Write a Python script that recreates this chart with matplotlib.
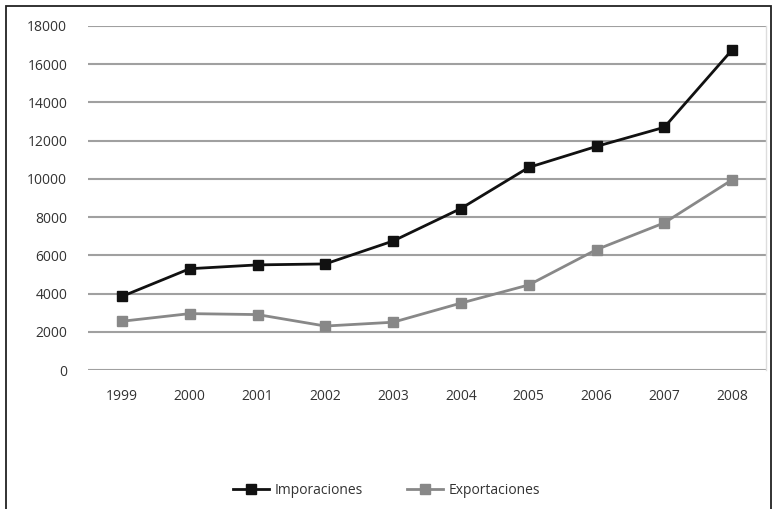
import matplotlib
matplotlib.use("Agg")
import matplotlib.pyplot as plt
from matplotlib.patches import Rectangle

years = ["1999", "2000", "2001", "2002", "2003", "2004", "2005", "2006", "2007", "2008"]
importaciones = [3850, 5300, 5500, 5550, 6750, 8450, 10600, 11700, 12700, 16750]
exportaciones = [2550, 2950, 2900, 2300, 2500, 3500, 4450, 6300, 7700, 9950]
yticks = [0, 2000, 4000, 6000, 8000, 10000, 12000, 14000, 16000, 18000]

plt.rcParams['font.family'] = ['Open Sans', 'DejaVu Sans']

W, H = 773, 509
fig = plt.figure(figsize=(W / 100, H / 100), dpi=100)
fig.patch.set_facecolor('white')

# outer border
fig.patches.append(Rectangle((6 / W, -0.01), (771 - 6) / W, 1 - 6 / H + 0.01,
                             transform=fig.transFigure, fill=False,
                             edgecolor='#222222', linewidth=1.3))

left, right = 88 / W, 766 / W
top, bottom = 1 - 26 / H, 1 - 370 / H
ax = fig.add_axes([left, bottom, right - left, top - bottom])

x = list(range(len(years)))
ax.plot(x, importaciones, color='#111111', linewidth=2, marker='s',
        markersize=7, markerfacecolor='#111111', markeredgecolor='#111111',
        label='Imporaciones', zorder=3)
ax.plot(x, exportaciones, color='#888888', linewidth=2, marker='s',
        markersize=7, markerfacecolor='#888888', markeredgecolor='#888888',
        label='Exportaciones', zorder=3)

ax.set_xlim(-0.5, len(years) - 0.5)
ax.set_ylim(0, 18000)
ax.set_yticks(yticks)
ax.set_yticklabels([str(v) for v in yticks])
ax.set_xticks(x)
ax.set_xticklabels(years)
ax.grid(axis='y', color='#a0a0a0', linewidth=1.5)
ax.set_axisbelow(True)
for side in ['left', 'top', 'bottom']:
    ax.spines[side].set_visible(False)
ax.spines['right'].set_color('#dddddd')
ax.spines['right'].set_linewidth(1)
ax.tick_params(axis='both', length=0, labelsize=10, colors='#333333')
ax.tick_params(axis='y', pad=15)
ax.tick_params(axis='x', pad=14)

leg = fig.legend(loc='center', bbox_to_anchor=(0.5, 1 - 490 / H), ncol=2,
                 frameon=False, fontsize=10, handlelength=2.6,
                 columnspacing=3.2, handletextpad=0.4)
for t in leg.get_texts():
    t.set_color('#333333')

fig.savefig('out.png', dpi=100, facecolor='white')
